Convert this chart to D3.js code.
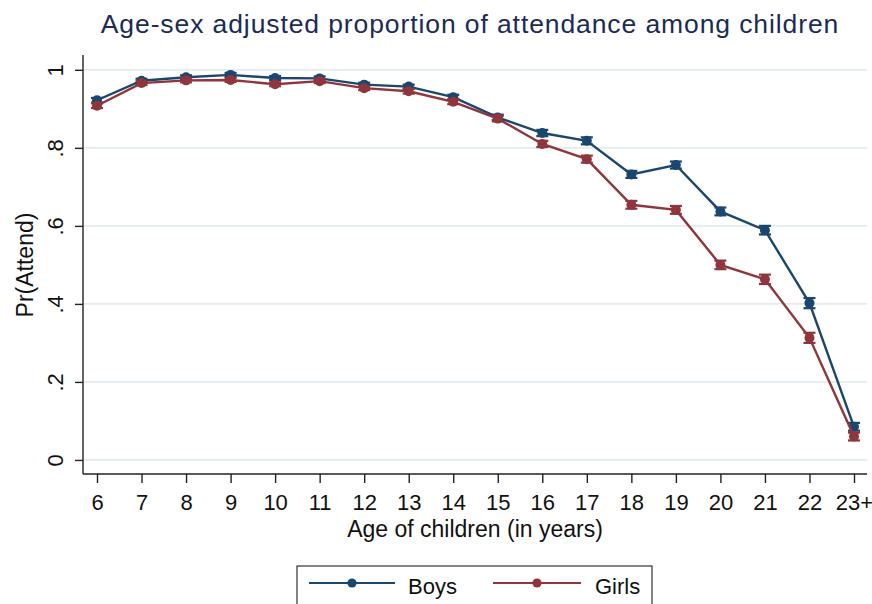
<!DOCTYPE html>
<html>
<head>
<meta charset="utf-8">
<script src="https://cdn.jsdelivr.net/npm/d3@7"></script>
<style>
  html, body { margin: 0; padding: 0; background: #ffffff; }
  svg { display: block; }
  text { font-family: "Liberation Sans", Arial, sans-serif; }
</style>
</head>
<body>
<svg id="chart" width="872" height="604"></svg>
<script>
// ---- data ----
const ages = ["6","7","8","9","10","11","12","13","14","15","16","17","18","19","20","21","22","23+"];
const boys  = [0.922,0.972,0.981,0.987,0.979,0.978,0.962,0.957,0.930,0.878,0.838,0.818,0.732,0.756,0.637,0.589,0.402,0.085];
const girls = [0.908,0.966,0.973,0.974,0.963,0.971,0.953,0.945,0.918,0.875,0.810,0.771,0.654,0.641,0.500,0.463,0.313,0.060];
const boysCI  = [0.006,0.005,0.005,0.005,0.005,0.005,0.005,0.005,0.006,0.007,0.008,0.009,0.009,0.009,0.010,0.011,0.013,0.010];
const girlsCI = [0.006,0.005,0.005,0.005,0.005,0.005,0.005,0.006,0.006,0.007,0.008,0.009,0.010,0.010,0.011,0.012,0.013,0.010];
const yTicks = [0, 0.2, 0.4, 0.6, 0.8, 1];
const yTickLabels = ["0", ".2", ".4", ".6", ".8", "1"];
const seriesNames = ["Boys", "Girls"];
const titleText = "Age-sex adjusted proportion of attendance among children";
const xTitle = "Age of children (in years)";
const yTitle = "Pr(Attend)";

const colors = {Boys: "#1a476f", Girls: "#90353b"};
const series = [
  {name: "Boys", values: boys, ci: boysCI},
  {name: "Girls", values: girls, ci: girlsCI}
];

const svg = d3.select("#chart");
const pLeft = 83, pRight = 867, pTop = 55, pBottom = 474;

const x = d3.scalePoint().domain(ages).range([97, 854]);
const y = d3.scaleLinear().domain([-0.036, 1.038]).range([pBottom, pTop]);

// gridlines
svg.append("g").selectAll("line").data(yTicks).join("line")
  .attr("x1", pLeft).attr("x2", pRight)
  .attr("y1", d => y(d)).attr("y2", d => y(d))
  .attr("stroke", "#e2edf0").attr("stroke-width", 1.8);

// y axis
const yAxis = svg.append("g").attr("transform", `translate(${pLeft},0)`)
  .call(d3.axisLeft(y).tickValues(yTicks).tickSize(8).tickFormat((d, i) => yTickLabels[i]));
yAxis.select(".domain").attr("d", `M0,${pTop}V${pBottom}`).attr("stroke", "#222").attr("stroke-width", 1.4);
yAxis.selectAll(".tick line").attr("stroke", "#222").attr("stroke-width", 1.4);
yAxis.selectAll(".tick text")
  .attr("font-size", 22).attr("fill", "#111")
  .attr("x", null).attr("dy", null)
  .attr("text-anchor", "middle")
  .attr("transform", "translate(-20,0) rotate(-90)");

// x axis
const xAxis = svg.append("g").attr("transform", `translate(0,${pBottom})`)
  .call(d3.axisBottom(x).tickSize(9).tickPadding(0));
xAxis.select(".domain").attr("d", `M${pLeft},0H${pRight}`).attr("stroke", "#222").attr("stroke-width", 1.4);
xAxis.selectAll(".tick line").attr("stroke", "#222").attr("stroke-width", 1.4);
xAxis.selectAll(".tick text")
  .attr("font-size", 22).attr("fill", "#111")
  .attr("y", 36).attr("dy", null);

// lines, error bars, markers
const line = d3.line().x((d, i) => x(ages[i])).y(d => y(d));
series.forEach(s => {
  const g = svg.append("g");
  g.append("path").datum(s.values).attr("d", line)
    .attr("fill", "none").attr("stroke", colors[s.name]).attr("stroke-width", 2.4);
  const pts = s.values.map((v, i) => ({age: ages[i], v: v, c: s.ci[i]}));
  const eb = g.append("g").selectAll("g").data(pts).join("g");
  eb.append("line")
    .attr("x1", d => x(d.age)).attr("x2", d => x(d.age))
    .attr("y1", d => y(d.v - d.c)).attr("y2", d => y(d.v + d.c))
    .attr("stroke", colors[s.name]).attr("stroke-width", 2.2);
  [-1, 1].forEach(sg => {
    eb.append("line")
      .attr("x1", d => x(d.age) - 6).attr("x2", d => x(d.age) + 6)
      .attr("y1", d => y(d.v + sg * d.c)).attr("y2", d => y(d.v + sg * d.c))
      .attr("stroke", colors[s.name]).attr("stroke-width", 2.2);
  });
  eb.append("circle")
    .attr("cx", d => x(d.age)).attr("cy", d => y(d.v)).attr("r", 5)
    .attr("fill", colors[s.name]);
});

// titles
svg.append("text").attr("x", 470).attr("y", 33).attr("text-anchor", "middle")
  .attr("font-size", 26.5).attr("letter-spacing", 0.9).attr("fill", "#1b2b57").text(titleText);
svg.append("text").attr("x", 475).attr("y", 537).attr("text-anchor", "middle")
  .attr("font-size", 23).attr("fill", "#111").text(xTitle);
svg.append("text").attr("transform", "translate(33,265) rotate(-90)")
  .attr("text-anchor", "middle").attr("font-size", 23).attr("fill", "#111").text(yTitle);

// legend
const lg = svg.append("g");
lg.append("rect").attr("x", 297).attr("y", 566).attr("width", 355).attr("height", 60)
  .attr("fill", "#fff").attr("stroke", "#333").attr("stroke-width", 1.2);
const legendItems = [
  {name: seriesNames[0], x1: 309, x2: 395, tx: 408},
  {name: seriesNames[1], x1: 493, x2: 581, tx: 595}
];
legendItems.forEach(it => {
  lg.append("line").attr("x1", it.x1).attr("x2", it.x2).attr("y1", 583).attr("y2", 583)
    .attr("stroke", colors[it.name]).attr("stroke-width", 2.2);
  lg.append("circle").attr("cx", (it.x1 + it.x2) / 2).attr("cy", 583).attr("r", 4.6)
    .attr("fill", colors[it.name]);
  lg.append("text").attr("x", it.tx).attr("y", 594).attr("font-size", 22)
    .attr("fill", "#111").text(it.name);
});
</script>
</body>
</html>
